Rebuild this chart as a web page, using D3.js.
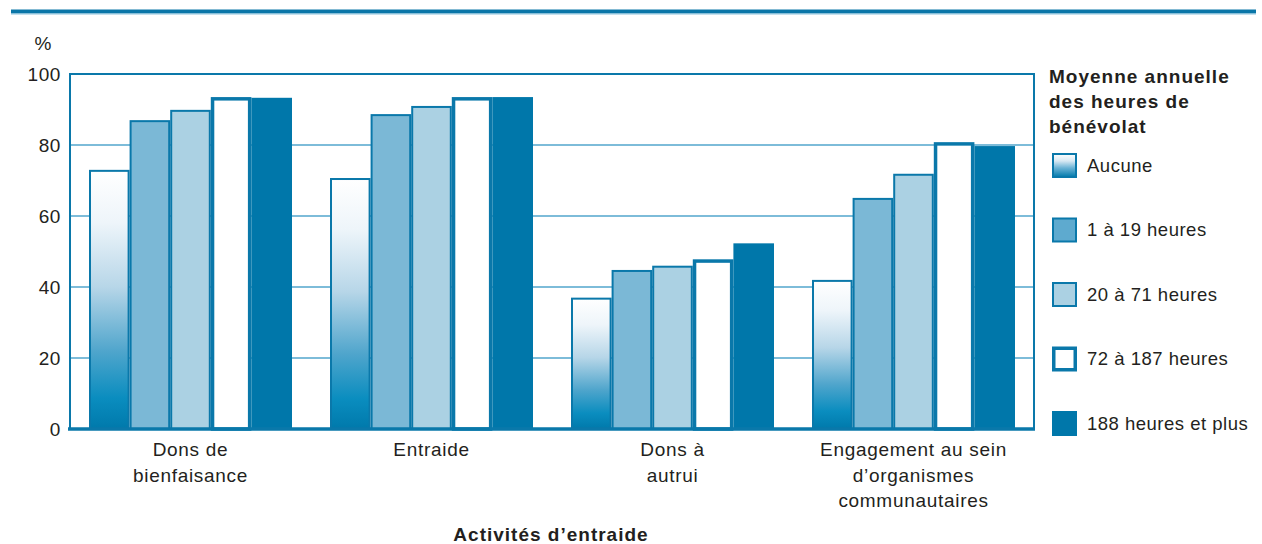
<!DOCTYPE html>
<html lang="fr">
<head>
<meta charset="utf-8">
<script src="https://cdn.jsdelivr.net/npm/d3@7"></script>
<style>
  html, body { margin: 0; padding: 0; background: #fff; }
  svg { display: block; }
  text { font-family: "Liberation Sans Narrow", "Liberation Sans", Arial, sans-serif; fill: #231f20; }
</style>
</head>
<body>
<svg id="chart" width="1262" height="544"></svg>
<script>
// Activités d'entraide selon la moyenne annuelle des heures de bénévolat (%)
const categories = [
  ["Dons de", "bienfaisance"],
  ["Entraide"],
  ["Dons à", "autrui"],
  ["Engagement au sein", "d\u2019organismes", "communautaires"]
];
const seriesNames = ["Aucune", "1 à 19 heures", "20 à 71 heures", "72 à 187 heures", "188 heures et plus"];
const aucune     = [73.0, 70.7, 37.0, 42.0];
const h1to19     = [87.0, 88.7, 44.8, 65.1];
const h20to71    = [89.9, 91.0, 46.0, 71.9];
const h72to187   = [93.5, 93.5, 47.8, 80.8];
const h188plus   = [93.3, 93.5, 52.3, 79.7];
const yTicks = [0, 20, 40, 60, 80, 100];

const series = [aucune, h1to19, h20to71, h72to187, h188plus];
const catKeys = categories.map((c, i) => "c" + i);

const svg = d3.select("#chart");
const blue = "#0a78aa";
const grid = "#7dbcd9";

const plot = { left: 70, right: 1034, top: 74, bottom: 429 };

const x0 = d3.scaleBand().domain(catKeys).range([plot.left, plot.right]).padding(0);
const x1 = d3.scaleBand().domain(d3.range(series.length))
  .range([19, x0.bandwidth() - 19]).padding(0);
const y = d3.scaleLinear().domain([0, 100]).range([plot.bottom, plot.top]);

// gradient for the "Aucune" series
const defs = svg.append("defs");
const grad = defs.append("linearGradient").attr("id", "gradAucune")
  .attr("x1", 0).attr("y1", 0).attr("x2", 0).attr("y2", 1);
[[0, "#ffffff"], [0.2, "#eef5fa"], [0.45, "#b7d6e8"], [0.7, "#4fa5cc"], [0.88, "#0a8dbf"], [1, "#0079ab"]]
  .forEach(([o, c]) => grad.append("stop").attr("offset", o).attr("stop-color", c));
const gradL = defs.append("linearGradient").attr("id", "gradLegend")
  .attr("x1", 0).attr("y1", 0).attr("x2", 0).attr("y2", 1);
[[0, "#ffffff"], [0.3, "#d8e9f3"], [0.6, "#6db4d6"], [1, "#0079ab"]]
  .forEach(([o, c]) => gradL.append("stop").attr("offset", o).attr("stop-color", c));

const styles = [
  { fill: "url(#gradAucune)", stroke: blue, sw: 2 },
  { fill: "#7bb8d6", stroke: blue, sw: 2 },
  { fill: "#abd1e3", stroke: blue, sw: 2 },
  { fill: "#ffffff", stroke: blue, sw: 3.5 },
  { fill: "#0077aa", stroke: "#0077aa", sw: 0 }
];

// top rule
svg.append("line").attr("x1", 11).attr("x2", 1256).attr("y1", 11.5).attr("y2", 11.5)
  .attr("stroke", "#0a76a8").attr("stroke-width", 4);
svg.append("line").attr("x1", 11).attr("x2", 1256).attr("y1", 14).attr("y2", 14)
  .attr("stroke", "#8cc4de").attr("stroke-width", 1);

// gridlines
svg.append("g").selectAll("line").data(yTicks.filter(t => t > 0 && t < 100)).join("line")
  .attr("x1", plot.left).attr("x2", plot.right)
  .attr("y1", d => y(d)).attr("y2", d => y(d))
  .attr("stroke", grid).attr("stroke-width", 2);

// frame (left, top, right)
svg.append("path")
  .attr("d", `M${plot.left},${plot.bottom}V${plot.top}H${plot.right}V${plot.bottom}`)
  .attr("fill", "none").attr("stroke", blue).attr("stroke-width", 2);

// bars
const groups = svg.append("g").selectAll("g").data(catKeys).join("g")
  .attr("transform", d => `translate(${x0(d)},0)`);
groups.selectAll("rect")
  .data((d, ci) => series.map((s, si) => ({ si, v: s[ci] })))
  .join("rect")
  .attr("x", d => x1(d.si) + styles[d.si].sw / 2)
  .attr("y", d => y(d.v) + styles[d.si].sw / 2)
  .attr("width", d => x1.bandwidth() - styles[d.si].sw)
  .attr("height", d => y(0) - y(d.v) - styles[d.si].sw / 2)
  .attr("fill", d => styles[d.si].fill)
  .attr("stroke", d => styles[d.si].sw ? styles[d.si].stroke : "none")
  .attr("stroke-width", d => styles[d.si].sw);

// baseline
svg.append("line").attr("x1", plot.left - 2).attr("x2", plot.right + 1)
  .attr("y1", plot.bottom).attr("y2", plot.bottom)
  .attr("stroke", blue).attr("stroke-width", 3.5);

// y axis labels
const yAxis = d3.axisLeft(y).tickValues(yTicks).tickSize(0).tickPadding(9);
const gy = svg.append("g").attr("transform", `translate(${plot.left},0)`).call(yAxis);
gy.select(".domain").remove();
gy.selectAll("text").attr("font-size", 19).attr("letter-spacing", 0.6)
  .style("font-family", "'Liberation Sans Narrow', 'Liberation Sans', Arial, sans-serif")
  .attr("fill", "#231f20").attr("dy", "0.36em");

svg.append("text").attr("x", 43).attr("y", 50).attr("text-anchor", "middle")
  .attr("font-size", 19).text("%");

// category labels
const xl = svg.append("g");
catKeys.forEach((k, i) => {
  const t = xl.append("text").attr("text-anchor", "middle")
    .attr("x", x0(k) + x0.bandwidth() / 2).attr("y", 456)
    .attr("font-size", 19).attr("letter-spacing", 0.7);
  categories[i].forEach((line, j) => {
    t.append("tspan").attr("x", x0(k) + x0.bandwidth() / 2).attr("dy", j === 0 ? 0 : 25.5).text(line);
  });
});

svg.append("text").attr("x", 551).attr("y", 541).attr("text-anchor", "middle")
  .attr("font-size", 19).attr("font-weight", "bold").attr("letter-spacing", 1.0)
  .text("Activités d\u2019entraide");

// legend
const lg = svg.append("g");
const lt = lg.append("text").attr("x", 1049).attr("y", 83)
  .attr("font-size", 19).attr("font-weight", "bold").attr("letter-spacing", 1.0);
["Moyenne annuelle", "des heures de", "bénévolat"].forEach((line, j) => {
  lt.append("tspan").attr("x", 1049).attr("dy", j === 0 ? 0 : 25).text(line);
});
const legendY = d3.scalePoint().domain(d3.range(seriesNames.length)).range([165, 423]);
const legendFill = ["url(#gradLegend)", "#5eaacf", "#abd1e3", "#ffffff", "#0077aa"];
const legendSw = [2, 2, 2, 3.5, 0];
seriesNames.forEach((name, i) => {
  const cy = legendY(i);
  const sw = legendSw[i];
  lg.append("rect").attr("x", 1052 + sw / 2).attr("y", cy - 12 + sw / 2)
    .attr("width", 25 - sw).attr("height", 25 - sw)
    .attr("fill", legendFill[i]).attr("stroke", sw ? blue : "none").attr("stroke-width", sw);
  lg.append("text").attr("x", 1087).attr("y", cy).attr("dy", "0.36em")
    .attr("font-size", 18.5).attr("letter-spacing", 0.5).text(name);
});
</script>
</body>
</html>
